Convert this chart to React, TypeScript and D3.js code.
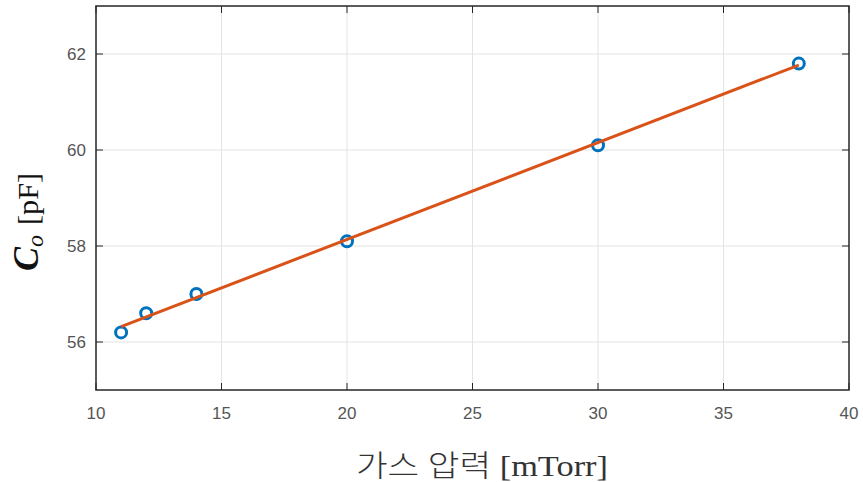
import React from 'react';
import * as d3 from 'd3';

// gas pressure [mTorr] vs measured capacitance [pF]
const pressure = [11, 12, 14, 20, 30, 38];
const capacitance = [56.2, 56.6, 57.0, 58.1, 60.1, 61.8];
// fitted line, end points
const fitX = [11, 38];
const fitY = [56.32, 61.77];
const xTicks = [10, 15, 20, 25, 30, 35, 40];
const yTicks = [56, 58, 60, 62];

const W = 863, H = 482;
const margin = { top: 6, right: 14, bottom: 92, left: 96 };

const x = d3.scaleLinear().domain([10, 40]).range([margin.left, W - margin.right]);
const y = d3.scaleLinear().domain([55, 63]).range([H - margin.bottom, margin.top]);

const axisColor = '#262626';
const tickLen = 7;
const sans = '"Liberation Sans", Arial, Helvetica, sans-serif';
const serif = '"Liberation Serif", "Times New Roman", "Noto Sans CJK KR", serif';

export default function App() {
  const x0 = x.range()[0], x1 = x.range()[1];
  const y0 = y.range()[0], y1 = y.range()[1];
  const fitLine = d3.line<number>().x((d, i) => x(fitX[i])).y((d) => y(d));

  return (
    <div style={{ position: 'absolute', left: 0, top: 0 }}>
      <svg width={W} height={H} style={{ display: 'block', background: '#fff' }}>
        {/* grid */}
        <g stroke="#e3e3e3" strokeWidth={1}>
          {xTicks.slice(1, -1).map(t => (
            <line key={'gx' + t} x1={x(t)} x2={x(t)} y1={y1} y2={y0} />
          ))}
          {yTicks.map(t => (
            <line key={'gy' + t} x1={x0} x2={x1} y1={y(t)} y2={y(t)} />
          ))}
        </g>

        {/* ticks, inside on all four sides */}
        <g stroke={axisColor} strokeWidth={1}>
          {xTicks.map(t => (
            <g key={'tx' + t}>
              <line x1={x(t)} x2={x(t)} y1={y0} y2={y0 - tickLen} />
              <line x1={x(t)} x2={x(t)} y1={y1} y2={y1 + tickLen} />
            </g>
          ))}
          {yTicks.map(t => (
            <g key={'ty' + t}>
              <line x1={x0} x2={x0 + tickLen} y1={y(t)} y2={y(t)} />
              <line x1={x1} x2={x1 - tickLen} y1={y(t)} y2={y(t)} />
            </g>
          ))}
        </g>

        {/* box */}
        <rect x={x0} y={y1} width={x1 - x0} height={y0 - y1} fill="none" stroke={axisColor} strokeWidth={1.5} />

        {/* tick labels */}
        <g fontFamily={sans} fontSize={17} fill="#555">
          {xTicks.map(t => (
            <text key={'lx' + t} x={x(t)} y={y0 + 29} textAnchor="middle">{t}</text>
          ))}
          {yTicks.map(t => (
            <text key={'ly' + t} x={x0 - 10} y={y(t)} dy="0.35em" textAnchor="end">{t}</text>
          ))}
        </g>

        {/* data markers */}
        <g fill="none" stroke="#0072BD" strokeWidth={3}>
          {pressure.map((p, i) => (
            <circle key={'m' + i} cx={x(p)} cy={y(capacitance[i])} r={5.5} />
          ))}
        </g>

        {/* fit */}
        <path d={fitLine(fitY) || ''} fill="none" stroke="#D95319" strokeWidth={3} />

        {/* axis labels */}
        <text x={356} y={476} fontFamily={serif} fontSize={30} fontWeight={300} fill="#333" textLength={252} lengthAdjust="spacingAndGlyphs">
          가스 압력 [mTorr]
        </text>
        <text transform="translate(38,271) rotate(-90)" fontFamily={serif} fill="#111">
          <tspan fontSize={36} fontStyle="italic" fontWeight="bold">C</tspan>
          <tspan fontSize={24} fontStyle="italic" dy={5}>o</tspan>
          <tspan fontSize={30} dx={10} dy={-5} textLength={52} lengthAdjust="spacingAndGlyphs">[pF]</tspan>
        </text>
      </svg>
    </div>
  );
}
